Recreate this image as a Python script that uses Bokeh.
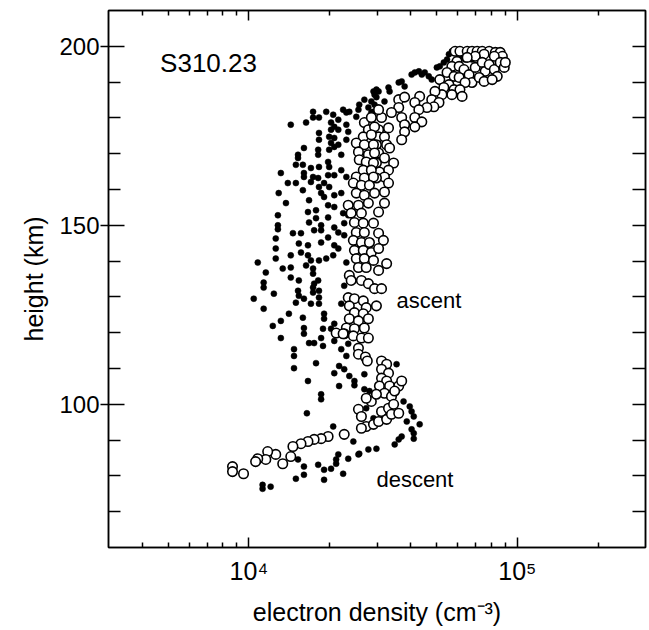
from bokeh.plotting import figure
from bokeh.models import LogAxis, LinearAxis, FixedTicker, Label
from bokeh.embed import file_html
from bokeh.resources import INLINE

# ---------------- data ----------------
# electron density given as log10(n_e / cm^-3), height in km

# ascent (open circles)
asc_log_ne = [
    4.768, 4.786, 4.813, 4.831, 4.850, 4.869, 4.895, 4.918, 4.936, 4.944,
    4.914, 4.876, 4.843, 4.813, 4.775, 4.756, 4.738, 4.711, 4.783, 4.801,
    4.820, 4.843, 4.869, 4.880, 4.895, 4.914, 4.925, 4.936, 4.951, 4.955,
    4.764, 4.783, 4.831, 4.858, 4.876, 4.906, 4.805, 4.745, 4.726, 4.764,
    4.786, 4.756, 4.719, 4.693, 4.794, 4.681, 4.708, 4.689, 4.663, 4.636,
    4.618, 4.633, 4.618, 4.644, 4.618, 4.558, 4.580, 4.558, 4.531, 4.569,
    4.494, 4.483, 4.580, 4.520, 4.483, 4.580, 4.569, 4.483, 4.505, 4.475,
    4.513, 4.524, 4.483, 4.505, 4.475, 4.539, 4.520, 4.486, 4.505, 4.475,
    4.520,
    4.430, 4.456, 4.445, 4.468, 4.426, 4.456, 4.400, 4.430, 4.464, 4.408,
    4.445, 4.468, 4.411, 4.437, 4.464, 4.426, 4.456, 4.400, 4.430, 4.464,
    4.389, 4.419, 4.449,
    4.400, 4.430, 4.468, 4.505, 4.370, 4.408, 4.445, 4.505, 4.381, 4.419,
    4.483, 4.393, 4.426, 4.464, 4.400, 4.430, 4.483, 4.389, 4.419, 4.449,
    4.501, 4.393, 4.426, 4.456, 4.483, 4.400, 4.430, 4.464, 4.513, 4.408,
    4.437, 4.483, 4.374, 4.381, 4.419, 4.445, 4.468, 4.494, 4.370, 4.393,
    4.426, 4.437, 4.374, 4.475, 4.393, 4.426, 4.374, 4.408, 4.445, 4.363,
    4.393, 4.430, 4.355, 4.389, 4.419, 4.445,
    4.325, 4.351, 4.408, 4.408, 4.434, 4.441, 4.494, 4.513, 4.494, 4.520,
    4.494, 4.513, 4.486, 4.524, 4.505, 4.531, 4.558, 4.569, 4.543, 4.456,
    4.437, 4.475, 4.494, 4.520, 4.539, 4.408, 4.419, 4.437, 4.419, 4.464,
    4.483, 4.513, 4.531, 4.558,
    4.355, 4.295, 4.269, 4.243, 4.220, 4.194, 4.164, 4.156, 4.126, 4.100,
    4.070, 4.063, 4.033, 4.025, 3.980, 3.939, 3.939,
]
asc_height = [
    198.6, 198.6, 198.6, 198.6, 198.6, 198.6, 198.6, 198.3, 198.3, 197.2,
    197.2, 197.8, 197.2, 196.9, 195.8, 194.4, 192.7, 190.7, 194.4, 193.5,
    192.1, 194.1, 195.5, 193.0, 194.9, 193.5, 191.6, 195.5, 194.1, 195.5,
    191.6, 191.3, 189.9, 191.3, 190.2, 190.7, 189.9, 189.3, 188.5, 187.9,
    187.9, 186.5, 186.5, 187.4, 186.0, 185.1, 184.3, 183.1, 182.9, 186.0,
    184.3, 182.3, 180.1, 178.9, 177.5, 185.1, 185.8, 182.9, 181.5, 180.1,
    180.1, 182.3, 178.1, 177.2, 176.7, 176.1, 173.9, 174.7, 174.7, 172.5,
    172.5, 171.6, 170.2, 168.8, 167.4, 167.4, 165.4, 164.9, 163.5, 163.2,
    161.8,
    178.7, 180.1, 176.7, 177.5, 174.7, 175.3, 173.0, 172.5, 172.5, 170.5,
    169.7, 170.2, 168.3, 167.7, 167.4, 165.4, 165.4, 163.5, 163.2, 163.5,
    161.8, 161.2, 161.2,
    159.0, 158.4, 159.0, 159.3, 155.6, 155.6, 156.2, 156.2, 153.4, 153.4,
    153.7, 150.8, 150.6, 150.6, 148.0, 148.0, 147.8, 145.8, 145.2, 145.2,
    145.8, 143.0, 143.0, 142.4, 143.5, 140.7, 140.7, 140.2, 139.3, 138.2,
    138.2, 137.4, 136.0, 134.6, 134.6, 133.7, 132.3, 132.3, 129.8, 129.5,
    128.9, 127.0, 127.5, 127.5, 125.6, 125.3, 123.9, 123.3, 123.9, 121.3,
    121.1, 121.3, 119.7, 119.1, 118.5, 118.5,
    119.9, 119.7, 115.7, 114.0, 113.2, 112.1, 112.1, 111.2, 109.8, 108.7,
    107.3, 106.5, 105.1, 105.1, 103.1, 102.2, 105.1, 106.5, 103.7, 100.8,
    101.7, 102.8, 98.0, 98.9, 100.0, 98.6, 96.6, 93.8, 93.3, 94.4,
    95.2, 95.8, 97.2, 97.5,
    91.6, 91.0, 90.4, 90.2, 89.6, 89.0, 88.2, 85.4, 83.4, 86.0,
    86.8, 84.6, 84.8, 84.0, 80.6, 82.6, 81.2,
]

# descent (filled dots)
desc_log_ne = [
    4.756, 4.745, 4.738, 4.726, 4.711, 4.700, 4.681, 4.670, 4.655, 4.644,
    4.633, 4.618, 4.606, 4.580, 4.569, 4.558, 4.524, 4.520, 4.475, 4.464,
    4.468, 4.464, 4.505, 4.783, 4.805, 4.831, 4.786, 4.861, 4.430, 4.456,
    4.468, 4.483, 4.475, 4.411, 4.445, 4.456,
    4.156, 4.213, 4.239, 4.239, 4.261, 4.288, 4.314, 4.306, 4.306, 4.318,
    4.333, 4.333, 4.351, 4.363, 4.374, 4.400, 4.408, 4.261, 4.261, 4.258,
    4.258, 4.299, 4.318, 4.318, 4.299, 4.306, 4.333, 4.205, 4.183, 4.183,
    4.175, 4.201, 4.231, 4.261, 4.295, 4.299, 4.344, 4.363, 4.370, 4.363,
    4.119, 4.145, 4.205, 4.205, 4.239, 4.258, 4.295, 4.318, 4.344, 4.363,
    4.175, 4.280,
    4.111, 4.201, 4.224, 4.231, 4.261, 4.269, 4.280, 4.299, 4.318, 4.344,
    4.138, 4.108, 4.108, 4.108, 4.220, 4.250, 4.224, 4.295, 4.318, 4.250,
    4.269, 4.295, 4.318, 4.351, 4.355, 4.164, 4.194, 4.243, 4.269, 4.333,
    4.355, 4.100, 4.186, 4.220, 4.269, 4.295, 4.318, 4.333, 4.100, 4.156,
    4.194, 4.220, 4.231, 4.261, 4.288, 4.314, 4.033, 4.100, 4.126, 4.156,
    4.213, 4.239, 4.063, 4.156, 4.186, 4.239, 4.258, 4.243, 4.055, 4.055,
    4.093, 4.183, 4.186, 4.239, 4.239, 4.261, 4.261, 4.018, 4.175, 4.205,
    4.231, 4.261, 4.055, 4.149, 4.201, 4.280, 4.280, 4.089, 4.119, 4.205,
    4.276, 4.306, 4.318, 4.119, 4.205, 4.269, 4.168, 4.243, 4.370, 4.363,
    4.355, 4.344,
    4.224, 4.276, 4.318, 4.344, 4.370, 4.168, 4.168, 4.250, 4.363, 4.336,
    4.318, 4.355, 4.374, 4.393, 4.393, 4.336, 4.220, 4.269, 4.269, 4.216,
    4.314, 4.389, 4.408, 4.370, 4.333, 4.325, 4.325, 4.306, 4.280, 4.280,
    4.258, 4.205, 4.205, 4.175, 4.183, 4.081, 4.051, 4.051, 4.351,
    4.550, 4.430, 4.430, 4.449, 4.505, 4.576, 4.599, 4.606, 4.614, 4.588,
    4.636, 4.606, 4.614, 4.614, 4.569, 4.558, 4.543, 4.475, 4.445, 4.411,
    4.464, 4.437,
]
desc_height = [
    198.6, 197.8, 196.3, 195.5, 194.4, 194.1, 190.7, 191.6, 192.7, 192.1,
    193.0, 192.7, 192.1, 188.8, 190.2, 189.9, 187.4, 188.5, 187.9, 187.4,
    183.7, 181.7, 184.6, 196.9, 196.3, 196.3, 197.8, 197.8, 185.1, 184.6,
    186.5, 187.4, 185.8, 183.7, 182.9, 181.5,
    178.1, 178.7, 180.1, 181.7, 180.1, 181.7, 180.9, 178.7, 176.7, 177.5,
    179.5, 176.7, 182.3, 181.5, 181.7, 180.3, 182.3, 175.8, 173.9, 171.1,
    169.7, 174.7, 174.4, 171.9, 171.1, 173.0, 172.5, 171.6, 169.7, 168.8,
    166.9, 166.9, 166.0, 166.3, 167.7, 166.3, 169.7, 173.9, 176.1, 178.1,
    164.6, 161.8, 164.6, 163.5, 163.5, 163.2, 164.0, 164.0, 165.4, 163.5,
    161.8, 161.8,
    159.0, 159.8, 157.0, 162.1, 160.7, 159.0, 157.9, 160.7, 158.4, 159.0,
    156.2, 152.8, 150.0, 148.9, 153.7, 154.2, 150.8, 155.6, 155.1, 152.0,
    150.0, 152.2, 149.4, 153.4, 150.6, 147.8, 147.8, 148.6, 148.6, 148.0,
    147.2, 146.3, 144.9, 144.4, 145.2, 146.6, 144.4, 143.5, 143.5, 141.6,
    142.4, 141.6, 140.2, 140.2, 140.7, 141.6, 139.6, 140.7, 137.9, 138.2,
    138.8, 137.9, 136.8, 135.4, 134.6, 136.5, 134.6, 133.7, 134.0, 132.6,
    130.9, 131.7, 130.3, 132.6, 131.2, 131.7, 129.8, 129.5, 128.4, 129.5,
    128.1, 128.1, 126.7, 125.3, 124.2, 125.3, 123.9, 121.9, 123.3, 121.3,
    121.1, 121.1, 122.5, 118.5, 119.7, 118.5, 115.4, 117.1, 152.8, 139.6,
    133.1, 128.1,
    117.1, 116.3, 117.7, 115.4, 116.9, 113.5, 110.1, 111.5, 113.5, 110.7,
    108.7, 109.8, 107.9, 106.5, 105.3, 105.1, 106.5, 102.8, 101.4, 97.5,
    93.8, 89.6, 86.0, 84.8, 86.0, 84.6, 83.4, 82.0, 81.7, 78.9,
    83.1, 82.6, 80.3, 79.2, 84.6, 77.0, 77.5, 76.4, 80.6,
    111.2, 108.4, 104.2, 103.7, 103.1, 100.8, 99.4, 98.0, 96.6, 95.2,
    94.4, 93.0, 91.9, 90.4, 91.0, 90.2, 88.8, 87.6, 87.4, 86.2,
    96.1, 98.9,
]

x_major_ticks = [1e4, 1e5]
x_tick_labels = {10000: "10\u2074", 100000: "10\u2075"}
y_major_ticks = [100, 150, 200]

asc_ne = [10 ** v for v in asc_log_ne]
desc_ne = [10 ** v for v in desc_log_ne]

# ---------------- figure ----------------
FONT = "Liberation Sans"

p = figure(
    frame_width=537, frame_height=537,
    x_axis_type="log",
    x_range=(3000, 300000), y_range=(60, 210),
    output_backend="svg", toolbar_location=None,
    min_border_left=108, min_border_right=4,
    min_border_top=10, min_border_bottom=83,
)
p.grid.visible = False
p.outline_line_color = "black"
p.outline_line_width = 1.5
p.background_fill_color = "white"
p.border_fill_color = "white"

x_minor = [m * 10 ** e for e in (3, 4, 5) for m in range(2, 10)
           if 3000 < m * 10 ** e < 300000]
y_minor = [v for v in range(70, 210, 10) if v not in y_major_ticks]

xt = FixedTicker(ticks=x_major_ticks, minor_ticks=x_minor)
yt = FixedTicker(ticks=y_major_ticks, minor_ticks=y_minor)

xa = p.xaxis[0]
xa.ticker = xt
xa.major_label_overrides = x_tick_labels
xa.axis_label = "electron density (cm\u207b\u00b3)"
ya = p.yaxis[0]
ya.ticker = yt
ya.axis_label = "height (km)"

for ax in (xa, ya):
    ax.axis_line_color = "black"
    ax.axis_line_width = 1.5
    ax.major_tick_line_width = 1.5
    ax.minor_tick_line_width = 1.5
    ax.major_tick_line_color = "black"
    ax.minor_tick_line_color = "black"
    ax.major_label_text_font = FONT
    ax.major_label_text_font_size = "25px"
    ax.major_label_text_color = "black"
    ax.axis_label_text_font = FONT
    ax.axis_label_text_font_size = "25px"
    ax.axis_label_text_font_style = "normal"
    ax.axis_label_text_color = "black"

ya.major_label_text_font_size = "24px"

xa.major_tick_in = 10
xa.major_tick_out = 0
xa.minor_tick_in = 5
xa.minor_tick_out = 0
xa.major_label_standoff = 9
xa.axis_label_standoff = 10

ya.major_tick_in = 16
ya.major_tick_out = 8
ya.minor_tick_in = 12
ya.minor_tick_out = 0
ya.major_label_standoff = 1
ya.axis_label_standoff = 8

top = LogAxis(ticker=FixedTicker(ticks=x_major_ticks, minor_ticks=x_minor))
right = LinearAxis(ticker=FixedTicker(ticks=y_major_ticks, minor_ticks=y_minor))
for ax, mi, ma in ((top, 5, 10), (right, 13, 13)):
    ax.major_label_text_font_size = "1px"
    ax.major_label_text_color = None
    ax.major_label_standoff = 0
    ax.major_tick_in = ma
    ax.major_tick_out = 0
    ax.minor_tick_in = mi
    ax.minor_tick_out = 0
    ax.axis_line_width = 1.5
    ax.major_tick_line_width = 1.5
    ax.minor_tick_line_width = 1.5
p.add_layout(top, "above")
p.add_layout(right, "right")

# descent first, ascent open circles on top
p.scatter(desc_ne, desc_height, size=6, marker="circle",
          fill_color="black", line_color="black", line_width=0.5)
p.scatter(asc_ne, asc_height, size=9.5, marker="circle",
          fill_color="white", line_color="black", line_width=1.6)

p.add_layout(Label(x=4670, y=195.2, text="S310.23", text_font=FONT,
                   text_font_size="26px", text_color="black",
                   text_baseline="alphabetic"))
p.add_layout(Label(x=35480, y=128.9, text="ascent", text_font=FONT,
                   text_font_size="22px", text_color="black",
                   text_baseline="alphabetic"))
p.add_layout(Label(x=29850, y=78.9, text="descent", text_font=FONT,
                   text_font_size="22px", text_color="black",
                   text_baseline="alphabetic"))

open("out.html", "w").write(file_html(p, INLINE))
